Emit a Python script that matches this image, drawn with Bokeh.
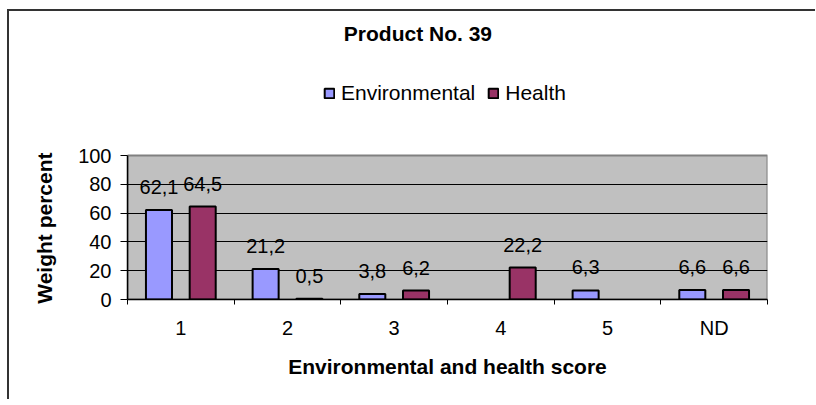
from bokeh.plotting import figure
from bokeh.models import (Range1d, FixedTicker, Legend, LegendItem, Label,
                          ColumnDataSource, Title)
from bokeh.core.properties import value
from bokeh.embed import file_html
from bokeh.resources import INLINE

# ---- data ----
categories = ["1", "2", "3", "4", "5", "ND"]
environmental = [62.1, 21.2, 3.8, None, 6.3, 6.6]
health = [64.5, 0.5, 6.2, 22.2, None, 6.6]
series_names = ["Environmental", "Health"]
title_text = "Product No. 39"
x_title = "Environmental and health score"
y_title = "Weight percent"
y_ticks = [0, 20, 40, 60, 80, 100]
y_max = 100

FONT = "Liberation Sans"
ENV_COLOR = "#9999FF"
HEALTH_COLOR = "#993366"
BAR_W = 0.244
OFFSET = 0.205
Y_TOP = 200  # frame extends above the plot area to host title and legend


def make_source(values, offset):
    xs, ys, labels = [], [], []
    for i, v in enumerate(values):
        if v is None:
            continue
        xs.append(i + 0.5 + offset)
        ys.append(v)
        labels.append(f"{v:.1f}".replace(".", ","))
    return ColumnDataSource(dict(x=xs, y=ys, label=labels))


n = len(categories)
p = figure(frame_width=640, frame_height=288,
           min_border_left=118, min_border_right=48,
           min_border_top=0, min_border_bottom=100,
           x_range=Range1d(0, n), y_range=Range1d(0, Y_TOP),
           output_backend="svg", toolbar_location=None,
           background_fill_color="white", border_fill_color="white",
           styles={"border-top": "2px solid #333333",
                   "border-left": "2px solid #333333",
                   "margin-left": "7px", "margin-top": "9px"})

p.outline_line_color = None

# grey plot area with grey top/right border
p.quad(left=[0], right=[n], bottom=[0], top=[y_max],
       fill_color="#C0C0C0", line_color="#808080", line_width=2,
       level="image")

# x axis
xa = p.xaxis[0]
xa.ticker = FixedTicker(ticks=[i + 0.5 for i in range(n)],
                        minor_ticks=list(range(n + 1)))
xa.major_label_overrides = {i + 0.5: c for i, c in enumerate(categories)}
xa.major_tick_line_color = None
xa.major_tick_out = 0
xa.major_tick_in = 0
xa.minor_tick_line_color = "black"
xa.minor_tick_out = 5
xa.minor_tick_in = 0
xa.axis_line_color = "black"
xa.axis_line_width = 1.5
xa.major_label_text_font = FONT
xa.major_label_text_font_size = "20px"
xa.major_label_text_color = "black"
xa.major_label_standoff = 12
xa.axis_label = x_title
xa.axis_label_text_font = FONT
xa.axis_label_text_font_size = "21px"
xa.axis_label_text_font_style = "bold"
xa.axis_label_text_color = "black"
xa.axis_label_standoff = 13

# y axis
ya = p.yaxis[0]
ya.bounds = (0, y_max)
ya.ticker = FixedTicker(ticks=y_ticks)
ya.major_tick_out = 7
ya.major_tick_in = 0
ya.major_tick_line_color = "black"
ya.minor_tick_line_color = None
ya.axis_line_color = "black"
ya.axis_line_width = 1.5
ya.major_label_text_font = FONT
ya.major_label_text_font_size = "20px"
ya.major_label_text_color = "black"
ya.major_label_standoff = 9

# y axis title, centred on the 0-100 plot area
p.add_layout(Title(text=y_title, align="right", offset=141,
                   vertical_align="middle", standoff=38,
                   text_font=FONT, text_font_size="21px",
                   text_font_style="bold", text_color="black"), "left")

p.xgrid.grid_line_color = None
p.ygrid.ticker = FixedTicker(ticks=[t for t in y_ticks if 0 < t < y_max])
p.ygrid.grid_line_color = "black"
p.ygrid.grid_line_width = 1

renderers = []
for vals, off, color in [(environmental, -OFFSET, ENV_COLOR),
                         (health, OFFSET, HEALTH_COLOR)]:
    src = make_source(vals, off)
    r = p.vbar(x="x", top="y", bottom=0, width=BAR_W, source=src,
               fill_color=color, line_color="black", line_width=2)
    renderers.append(r)
    p.text(x="x", y="y", text="label", source=src,
           text_font=value(FONT), text_font_size="20px", text_color="black",
           text_align="center", text_baseline="alphabetic", y_offset=-23)

legend = Legend(items=[LegendItem(label=nm, renderers=[r])
                       for nm, r in zip(series_names, renderers)],
                location=(196, 194), orientation="horizontal",
                glyph_width=12, glyph_height=12, label_standoff=6,
                spacing=12, padding=0, margin=0,
                border_line_color=None, background_fill_alpha=0,
                label_text_font=FONT, label_text_font_size="21px",
                label_text_color="black")
p.add_layout(legend)

title = Label(x=2.723, y=185, text=title_text, text_font=FONT,
              text_font_size="21px", text_font_style="bold",
              text_align="center", text_baseline="middle",
              text_color="black")
p.add_layout(title)

open("out.html", "w").write(file_html(p, INLINE))
